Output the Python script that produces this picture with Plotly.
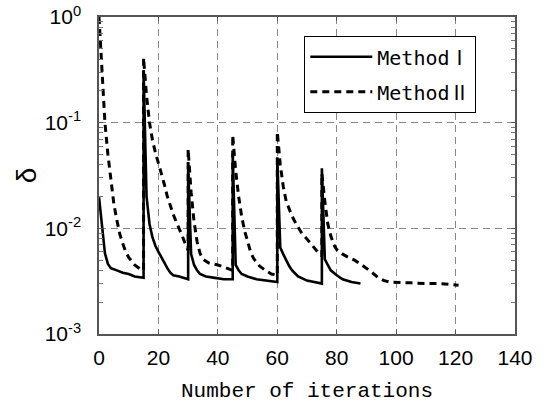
import plotly.graph_objects as go

# Method I (solid)
iter_m1 = [0, 1, 2, 3, 4, 6, 8, 10, 12, 15,
           15, 16, 17, 18, 19, 20, 21, 22, 23, 24, 25, 27, 30,
           30, 31, 32, 33, 34, 36, 39, 42, 45,
           45, 46, 47, 48, 50, 53, 56, 60,
           60, 61, 62, 63, 64, 65, 67, 70, 75,
           75, 76, 77, 78, 80, 82, 85, 88]
delta_m1 = [0.0197, 0.0105, 0.0058, 0.0046, 0.0042, 0.0040, 0.0038, 0.0037, 0.0035, 0.0034,
            0.315, 0.020, 0.011, 0.0082, 0.0068, 0.0060, 0.0053, 0.0047, 0.0042, 0.0038, 0.0036, 0.0035, 0.0033,
            0.039, 0.0057, 0.0045, 0.0040, 0.0037, 0.0035, 0.0034, 0.0033, 0.0033,
            0.051, 0.0045, 0.0040, 0.0037, 0.0035, 0.0033, 0.0032, 0.0031,
            0.047, 0.0066, 0.0057, 0.0050, 0.0044, 0.0040, 0.0035, 0.0032, 0.0030,
            0.037, 0.0051, 0.0045, 0.0040, 0.0036, 0.0033, 0.0031, 0.0030]

# Method II (dashed)
iter_m2 = [0, 1, 2, 3, 4, 5, 6, 7, 8, 9, 10, 12, 14, 15,
           15, 16, 17, 18, 19, 20, 21, 22, 23, 24, 25, 26, 27, 28, 29, 30,
           30, 31, 32, 33, 34, 35, 37, 40, 43, 45,
           45, 46, 47, 48, 49, 50, 51, 52, 54, 56, 58, 60,
           60, 61, 62, 63, 64, 65, 66, 68, 70, 72, 74, 75,
           75, 76, 77, 78, 79, 80, 82, 84, 86, 88, 90, 92, 94, 96, 98, 100, 105, 110, 115, 121]
delta_m2 = [1.0, 0.32, 0.10, 0.050, 0.028, 0.017, 0.012, 0.0088, 0.0072, 0.0060, 0.0053, 0.0045, 0.0041, 0.0040,
            0.41, 0.18, 0.10, 0.068, 0.052, 0.042, 0.034, 0.026, 0.020, 0.016, 0.0135, 0.0115, 0.010, 0.0085, 0.0072, 0.0062,
            0.056, 0.022, 0.0115, 0.0075, 0.0058, 0.0051, 0.0047, 0.0045, 0.0042, 0.0040,
            0.076, 0.035, 0.020, 0.013, 0.0095, 0.0075, 0.0060, 0.0052, 0.0044, 0.0040, 0.0037, 0.0036,
            0.082, 0.040, 0.025, 0.018, 0.015, 0.013, 0.0115, 0.0092, 0.0079, 0.0067, 0.0058, 0.0055,
            0.033, 0.018, 0.011, 0.0085, 0.0070, 0.0063, 0.0057, 0.0053, 0.0050, 0.0046, 0.0042, 0.0038, 0.0034, 0.0032,
            0.0031, 0.0031, 0.00305, 0.0030, 0.0030, 0.0029]

series_names = ["Method\u2160", "Method\u2161"]
x_ticks = [0, 20, 40, 60, 80, 100, 120, 140]
y_ticks = [0.001, 0.01, 0.1, 1]
y_ticklabels = ["10<sup>-3</sup>", "10<sup>-2</sup>", "10<sup>-1</sup>", "10<sup>0</sup>"]

fig = go.Figure()
fig.add_trace(go.Scatter(x=iter_m1, y=delta_m1, mode="lines", name=series_names[0],
                         legendgroup="m1",
                         line=dict(color="black", width=2.6)))
fig.add_trace(go.Scatter(x=iter_m2, y=delta_m2, mode="lines", name=series_names[1],
                         legendgroup="m2",
                         line=dict(color="black", width=3, dash="7px,5px")))

axis_font = dict(family="Liberation Sans, Arial, sans-serif", size=21, color="black")

fig.update_layout(
    width=547, height=404,
    margin=dict(l=99, r=32, t=17, b=70),
    paper_bgcolor="white", plot_bgcolor="white",
    showlegend=True,
    legend=dict(x=0.493, y=0.94, xanchor="left", yanchor="top",
                bgcolor="white", bordercolor="black", borderwidth=1.2,
                font=dict(family="DejaVu Sans Mono, Noto Sans CJK JP, monospace", size=20, color="black"),
                tracegroupgap=6, itemwidth=62),
    xaxis=dict(range=[0, 140], tickvals=x_ticks, ticks="inside", ticklen=4, automargin=False,
               tickcolor="#555", showline=True, linecolor="#555", linewidth=1.5, mirror="ticks",
               showgrid=True, gridcolor="#888", griddash="7px,5px", gridwidth=1,
               zeroline=False, tickfont=axis_font, ticklabelstandoff=4,
               title=dict(text="Number of iterations",
                          font=dict(family="Liberation Mono, DejaVu Sans Mono, monospace", size=21, color="black"),
                          standoff=14)),
    yaxis=dict(type="log", range=[-3, 0], tickvals=y_ticks, ticktext=y_ticklabels, automargin=False,
               ticks="inside", ticklen=4, tickcolor="#555",
               showline=True, linecolor="#555", linewidth=1.5, mirror="ticks",
               showgrid=True, gridcolor="#888", griddash="7px,5px", gridwidth=1,
               zeroline=False, tickfont=axis_font, ticklabelstandoff=12,
               minor=dict(ticks="inside", ticklen=4, tickcolor="#777", dtick="D1", showgrid=False),
               title=dict(text="δ", font=dict(family="Liberation Sans, Arial, sans-serif", size=28, color="black"),
                          standoff=0)),
)

fig.write_html("out.html", config={"displayModeBar": False},
               post_script="document.body.style.margin='0';document.body.style.padding='0';")
